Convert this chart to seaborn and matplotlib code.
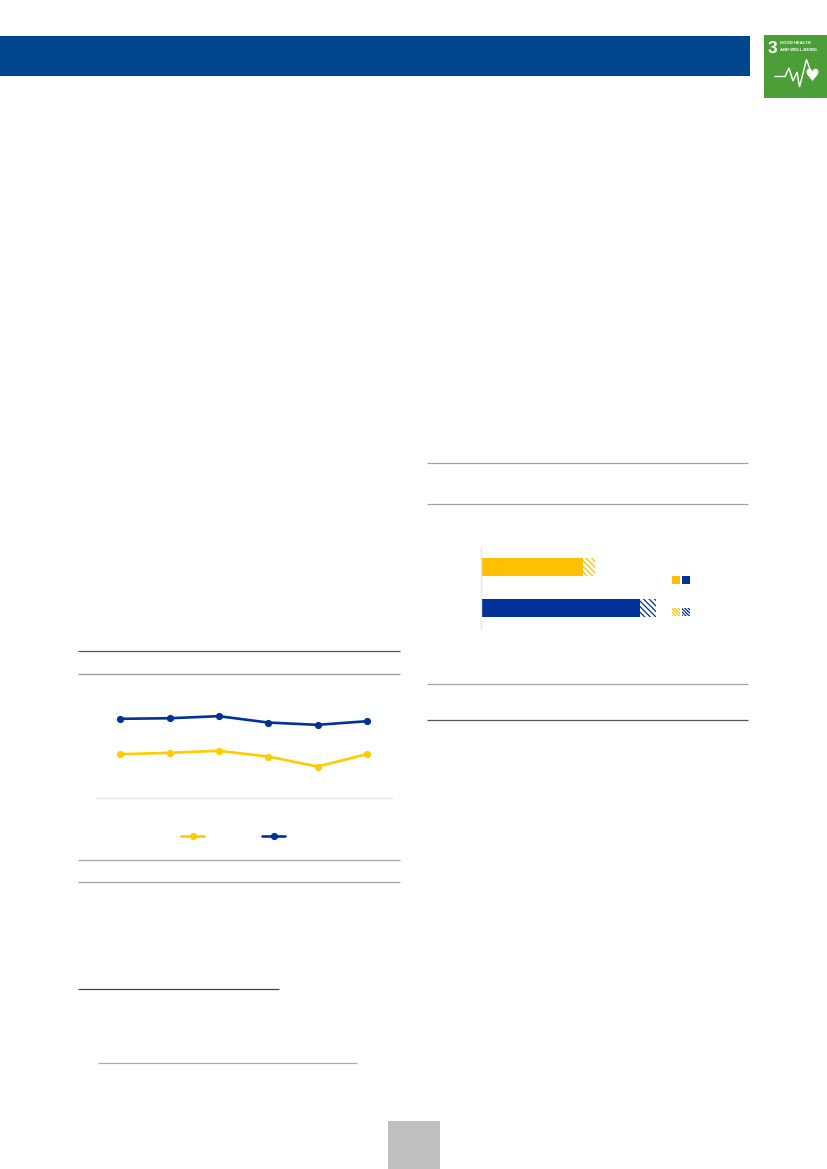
import matplotlib
matplotlib.use("Agg")
import matplotlib.pyplot as plt
from matplotlib.patches import Patch, Rectangle
from matplotlib.lines import Line2D
import pandas as pd
import seaborn as sns

# ---- data (axis text is not shown in the reference)
periods = [1, 2, 3, 4, 5, 6]
navy_values = [72.0, 72.5, 74.4, 68.6, 66.5, 69.8]
yellow_values = [39.8, 41.1, 42.9, 37.7, 28.6, 39.8]
bar_groups = ["yellow", "navy"]
bar_solid = [46.5, 72.3]
bar_hatched = [5.5, 7.3]

YELLOW_LINE = "#ffcc00"
YELLOW_BAR = "#ffc000"
NAVY = "#003399"
BAND = "#00468f"
GREEN = "#4c9f38"

W, H = 827, 1169
sns.set_theme(style="white")
plt.rcParams["font.family"] = ["Liberation Sans", "DejaVu Sans"]
plt.rcParams["hatch.linewidth"] = 0.9
fig = plt.figure(figsize=(W / 100, H / 100), dpi=100, facecolor="white")


def px_axes(x0, y0, x1, y1, **kw):
    return fig.add_axes([x0 / W, 1 - y1 / H, (x1 - x0) / W, (y1 - y0) / H], **kw)


# ---- page furniture in pixel coordinates
page = px_axes(0, 0, W, H)
page.set_xlim(0, W)
page.set_ylim(H, 0)
page.axis("off")
page.add_patch(Rectangle((0, 36), 750, 40, fc=BAND, ec="none"))
page.add_patch(Rectangle((388, 1121), 52, 48, fc="#bfbfbf", ec="none"))
page.add_patch(Rectangle((764, 35), 62.5, 63, fc=GREEN, ec="none"))
rules = [
    (78, 400, 650.5, "#555555"), (78, 400, 673.5, "#999999"),
    (78, 400, 860, "#a0a0a0"), (78, 400, 882, "#a0a0a0"),
    (427, 748, 463, "#a0a0a0"), (427, 748, 504, "#a0a0a0"),
    (427, 748, 684, "#a0a0a0"), (427, 748, 720, "#555555"),
    (78, 279, 989, "#444444"), (98, 357, 1062.5, "#8fabe6"),
]
for x0, x1, y, c in rules:
    page.plot([x0, x1], [y, y], color=c, lw=0.9, solid_capstyle="butt")

# SDG badge
page.text(768, 53, "3", color="white", fontsize=12.5, fontweight="bold",
          va="baseline", ha="left")
page.text(780, 46.5, "GOOD HEALTH\nAND WELL-BEING", color="white", fontsize=3.1,
          fontweight="bold", va="center", ha="left", linespacing=1.9)
ecg_x = [775, 785, 789, 793, 797, 799.5, 806.5, 811]
ecg_y = [76.5, 76.5, 68, 81, 72, 87, 59.5, 72]
page.plot(ecg_x, ecg_y, color="white", lw=1.0, solid_joinstyle="miter")
page.text(812, 76, "\u2665", color="white", fontsize=12, family="DejaVu Sans",
          ha="center", va="center")

# ---- line chart
line_df = pd.DataFrame({
    "period": periods * 2,
    "value": yellow_values + navy_values,
    "series": ["yellow"] * 6 + ["navy"] * 6,
})
ax1 = px_axes(95.5, 688, 391.5, 798)
sns.lineplot(data=line_df, x="period", y="value", hue="series",
             palette={"yellow": YELLOW_LINE, "navy": NAVY}, marker="o",
             markersize=5.2, markeredgewidth=0, linewidth=1.9, legend=False, ax=ax1)
ax1.set_xlim(0.5, 6.5)
ax1.set_ylim(0, 100)
ax1.set_xticks([])
ax1.set_yticks([])
ax1.set_xlabel("")
ax1.set_ylabel("")
sns.despine(ax=ax1, left=True)
ax1.spines["bottom"].set_color("#e6e6e6")
ax1.spines["bottom"].set_linewidth(0.9)
ax1.patch.set_alpha(0)

line_handles = [
    Line2D([], [], color=c, lw=1.9, marker="o", ms=5.2, mew=0)
    for c in (YELLOW_LINE, NAVY)
]
fig.legend(line_handles, ["", ""], ncols=2, loc="center",
           bbox_to_anchor=(233 / W, 1 - 836.5 / H), frameon=False, fontsize=7.2,
           handlelength=2.35, handletextpad=0, columnspacing=5.75,
           borderpad=0, borderaxespad=0)

# ---- bar chart
bar_df = pd.DataFrame({
    "group": bar_groups,
    "solid": bar_solid,
    "total": [s + h for s, h in zip(bar_solid, bar_hatched)],
})
ax2 = px_axes(480.5, 546.5, 700.5, 628.5)
sns.barplot(data=bar_df, x="total", y="group", order=bar_groups, width=0.415,
            color="white", linewidth=0, ax=ax2)
totals = list(ax2.patches)
sns.barplot(data=bar_df, x="solid", y="group", order=bar_groups, width=0.415,
            color=NAVY, linewidth=0, ax=ax2)
solids = list(ax2.patches)[len(totals):]
for p, c in zip(totals, (YELLOW_BAR, NAVY)):
    p.set_facecolor("white")
    p.set_edgecolor(c)
    p.set_hatch("\\" * 6)
    p.set_linewidth(0)
for p, c in zip(solids, (YELLOW_BAR, NAVY)):
    p.set_facecolor(c)
ax2.set_xlim(0, 100)
ax2.set_xticks([])
ax2.set_yticks([])
ax2.set_xlabel("")
ax2.set_ylabel("")
sns.despine(ax=ax2, bottom=True)
ax2.spines["left"].set_color("#e6e6e6")
ax2.spines["left"].set_linewidth(1.0)
ax2.patch.set_alpha(0)

bar_handles = [
    Patch(fc=YELLOW_BAR, ec="none"),
    Patch(fc="white", ec=YELLOW_BAR, hatch="\\" * 10, lw=0),
    Patch(fc=NAVY, ec="none"),
    Patch(fc="white", ec=NAVY, hatch="\\" * 10, lw=0),
]
fig.legend(bar_handles, [""] * 4, ncols=2, loc="center",
           bbox_to_anchor=(681 / W, 1 - 596.25 / H), frameon=False, fontsize=7.2,
           handlelength=0.8, handleheight=0.86, handletextpad=0, columnspacing=0.2,
           labelspacing=2.25, borderpad=0, borderaxespad=0)

fig.savefig("out.png", dpi=100, facecolor="white")
